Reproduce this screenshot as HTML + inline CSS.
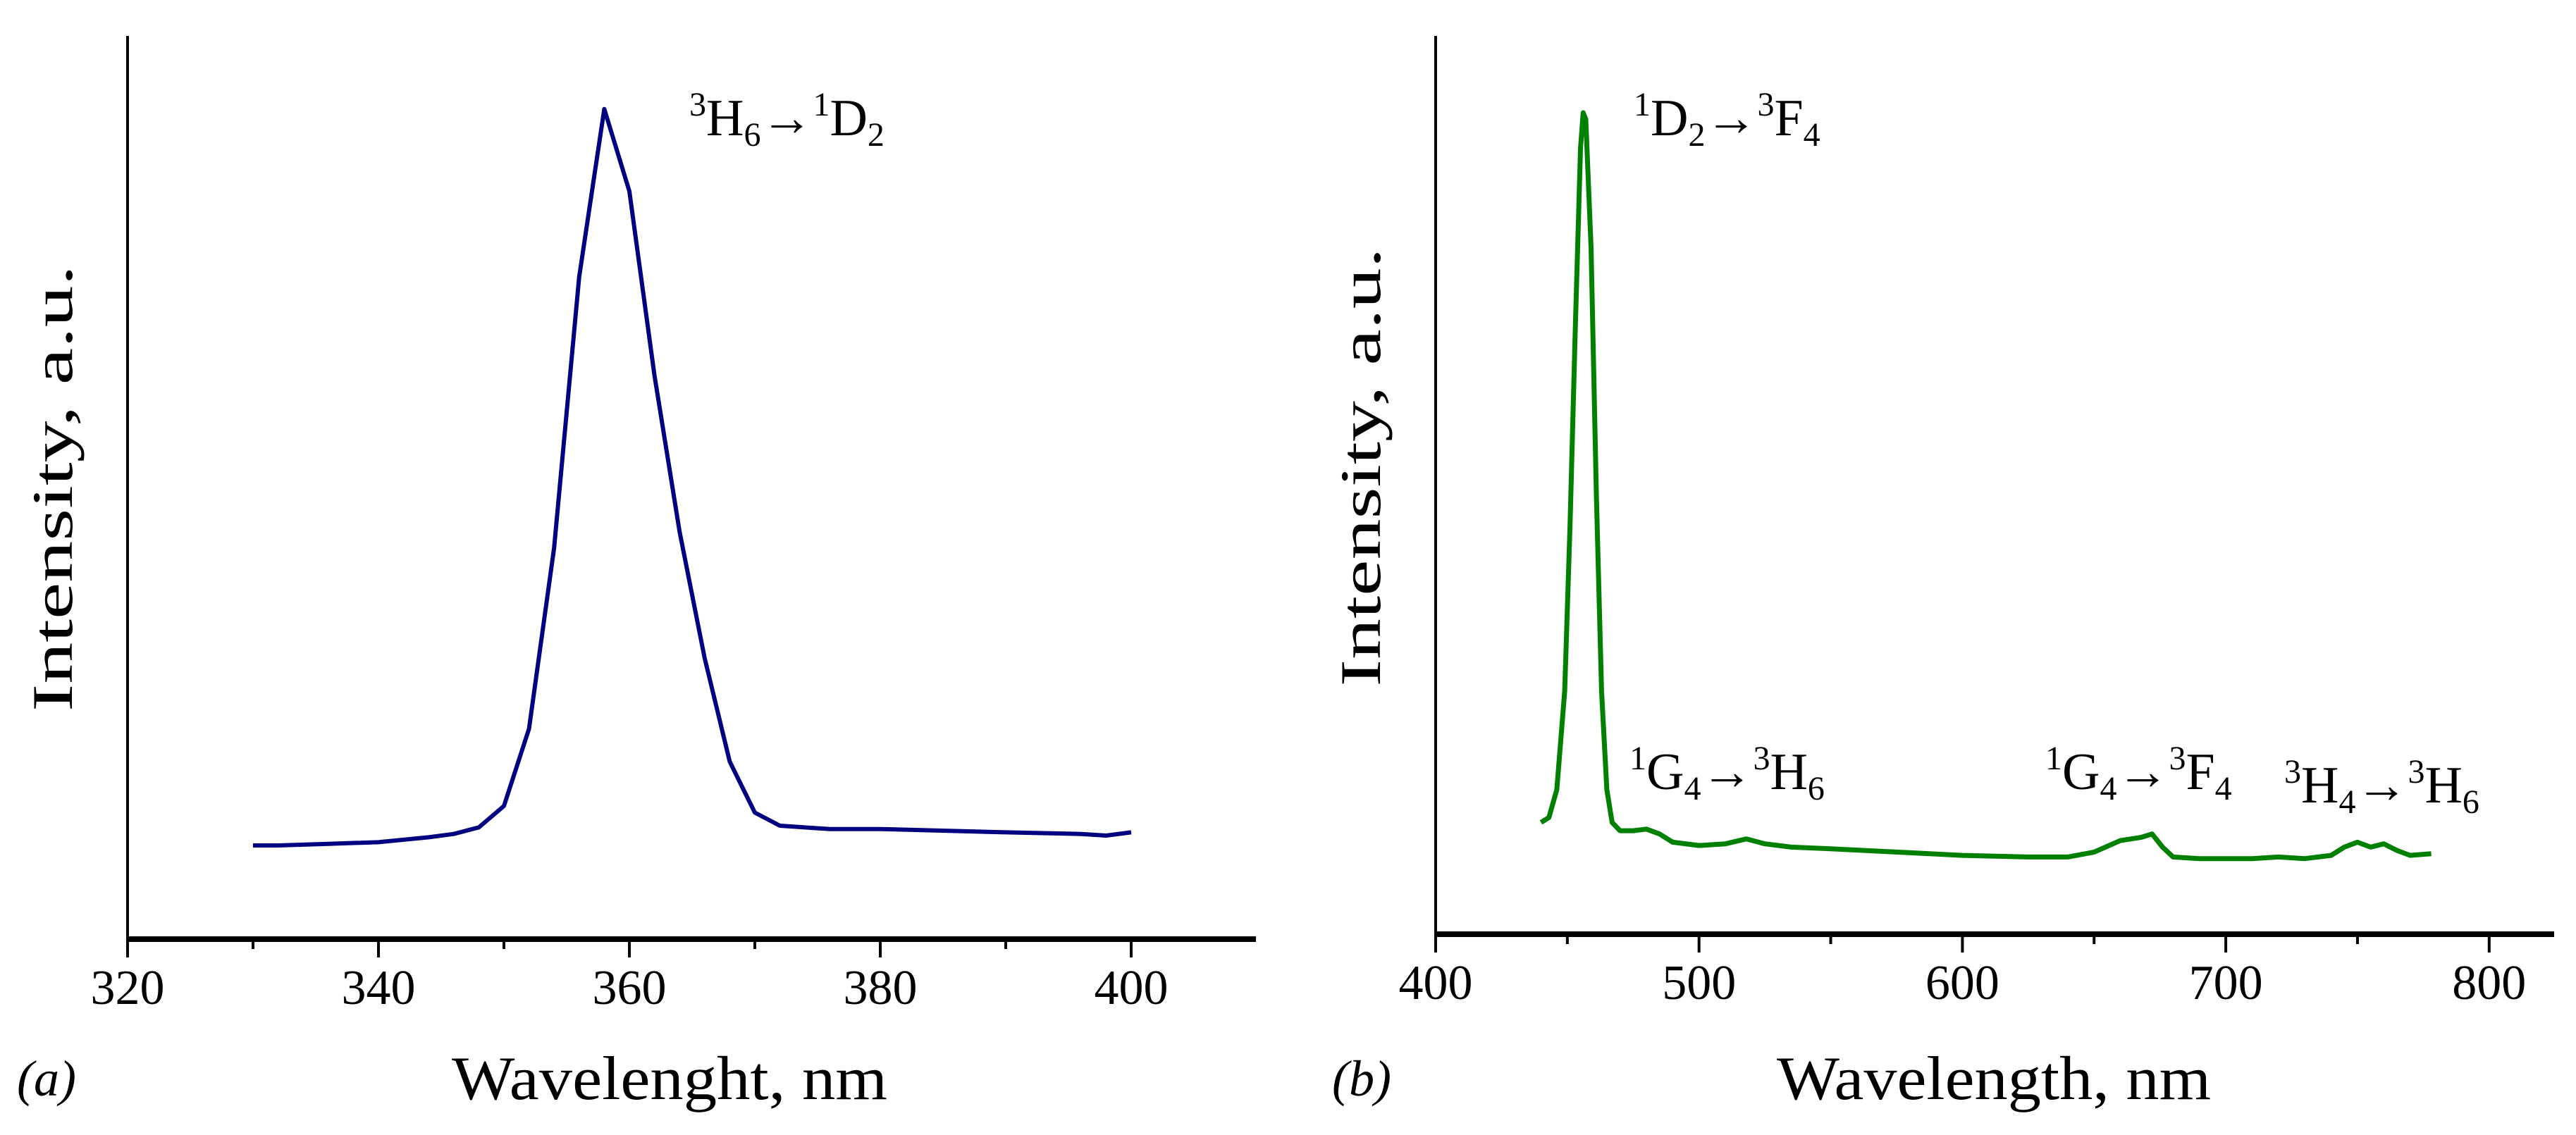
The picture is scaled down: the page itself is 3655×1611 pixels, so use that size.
<!DOCTYPE html>
<html><head><meta charset="utf-8"><style>
html,body{margin:0;padding:0;background:#fff;}
svg{display:block;font-family:"Liberation Serif",serif;}
</style></head><body>
<svg id="fig" width="3655" height="1611" viewBox="0 0 3655 1611">
<g id="pa"></g>
<g id="pb"></g>
</svg>
<script>
// Panel (a) data: excitation spectrum
const aWavelengths = [330,332,336,340,344,346,348,350,352,354,356,358,360,362,364,366,368,370,372,374,376,380,390,396,398,400];
const aIntensity   = [57,57,58,59,62,64,68,81,128,238,403,505,455,343,248,171,108,77,69,68,67,67,65,64,63,65];
const aTicks = [320,340,360,380,400];
const aMinor = [330,350,370,390];
// Panel (b) data: emission spectrum
const bWavelengths = [440,443,446,449,451,453,455,456,457,459,461,463,465,467,470,475,480,485,490,500,510,518,525,535,550,575,600,625,640,650,660,668,672,676,680,690,700,710,720,730,740,745,750,755,760,765,770,778];
const bIntensity   = [68,71,88,148,248,368,478,500,496,418,268,148,88,68,63,63,64,61,56,54,55,58,55,53,52,50,48,47,47,50,57,59,61,53,47,46,46,46,47,46,48,53,56,53,55,51,48,49];
const bTicks = [400,500,600,700,800];
const bMinor = [450,550,650,750];

const NS="http://www.w3.org/2000/svg";
function mk(parent,tag,attrs){const e=document.createElementNS(NS,tag);for(const k in attrs)e.setAttribute(k,attrs[k]);parent.appendChild(e);return e;}

function panel(g, cfg){
  const xs=v=>cfg.x0+(v-cfg.xmin)*cfg.kx;
  const ys=v=>cfg.y0-v*cfg.ky;
  const ya=mk(g,'line',{x1:cfg.x0,y1:51,x2:cfg.x0,y2:cfg.y0,stroke:'#000','stroke-width':4});
  
  
  const xa=mk(g,'line',{x1:cfg.x0-2,y1:cfg.y0,x2:cfg.xend,y2:cfg.y0,stroke:'#000','stroke-width':8});
  
  
  cfg.ticks.forEach(t=>{
    const l=mk(g,'line',{x1:xs(t),y1:cfg.y0,x2:xs(t),y2:cfg.y0+26,stroke:'#000','stroke-width':4});
    
    
    const tx=mk(g,'text',{x:xs(t),y:cfg.y0+92,'text-anchor':'middle','font-size':70});
    tx.textContent=t;
    
    
  });
  cfg.minor.forEach(t=>{
    const l=mk(g,'line',{x1:xs(t),y1:cfg.y0,x2:xs(t),y2:cfg.y0+14,stroke:'#000','stroke-width':4});
    
    
  });
  const d=cfg.xv.map((v,i)=>(i?'L':'M')+xs(v).toFixed(1)+','+ys(cfg.yv[i]).toFixed(1)).join(' ');
  const p=mk(g,'path',{d:d,fill:'none',stroke:cfg.color,'stroke-width':cfg.sw,'stroke-linejoin':'round'});
  
  
}

panel(document.getElementById('pa'),{x0:181,xmin:320,kx:17.8,xend:1782,y0:1333,ky:2.333,ticks:aTicks,minor:aMinor,xv:aWavelengths,yv:aIntensity,color:'#000080',sw:6});
panel(document.getElementById('pb'),{x0:2037,xmin:400,kx:3.737,xend:3624,y0:1326,ky:2.332,ticks:bTicks,minor:bMinor,xv:bWavelengths,yv:bIntensity,color:'#008000',sw:7});
</script>
<svg style="position:absolute;left:0;top:0" width="3655" height="1611" font-family="Liberation Serif, serif">
<text x="950" y="1560" text-anchor="middle" font-size="88" textLength="618" lengthAdjust="spacingAndGlyphs">Wavelenght, nm</text>
<text x="2829" y="1560" text-anchor="middle" font-size="88" textLength="616" lengthAdjust="spacingAndGlyphs">Wavelength, nm</text>
<text x="24" y="1555" font-size="72" font-style="italic">(a)</text>
<text x="1890" y="1555" font-size="72" font-style="italic">(b)</text>
<text transform="translate(102,693) rotate(-90)" text-anchor="middle" font-size="82" textLength="634" lengthAdjust="spacingAndGlyphs">Intensity, a.u.</text>
<text transform="translate(1958,663) rotate(-90)" text-anchor="middle" font-size="82" textLength="623" lengthAdjust="spacingAndGlyphs">Intensity, a.u.</text>
<text x="978" y="192" font-size="74"><tspan font-size="48" dy="-28">3</tspan><tspan dy="28">H</tspan><tspan font-size="48" dy="15">6</tspan><tspan dy="-15">→</tspan><tspan font-size="48" dy="-28">1</tspan><tspan dy="28">D</tspan><tspan font-size="48" dy="15">2</tspan></text>
<text x="2318" y="192" font-size="74"><tspan font-size="48" dy="-28">1</tspan><tspan dy="28">D</tspan><tspan font-size="48" dy="15">2</tspan><tspan dy="-15">→</tspan><tspan font-size="48" dy="-28">3</tspan><tspan dy="28">F</tspan><tspan font-size="48" dy="15">4</tspan></text>
<text x="2312" y="1120" font-size="74"><tspan font-size="48" dy="-28">1</tspan><tspan dy="28">G</tspan><tspan font-size="48" dy="15">4</tspan><tspan dy="-15">→</tspan><tspan font-size="48" dy="-28">3</tspan><tspan dy="28">H</tspan><tspan font-size="48" dy="15">6</tspan></text>
<text x="2902" y="1120" font-size="74"><tspan font-size="48" dy="-28">1</tspan><tspan dy="28">G</tspan><tspan font-size="48" dy="15">4</tspan><tspan dy="-15">→</tspan><tspan font-size="48" dy="-28">3</tspan><tspan dy="28">F</tspan><tspan font-size="48" dy="15">4</tspan></text>
<text x="3241" y="1139" font-size="74"><tspan font-size="48" dy="-28">3</tspan><tspan dy="28">H</tspan><tspan font-size="48" dy="15">4</tspan><tspan dy="-15">→</tspan><tspan font-size="48" dy="-28">3</tspan><tspan dy="28">H</tspan><tspan font-size="48" dy="15">6</tspan></text>
</svg>
</body></html>
